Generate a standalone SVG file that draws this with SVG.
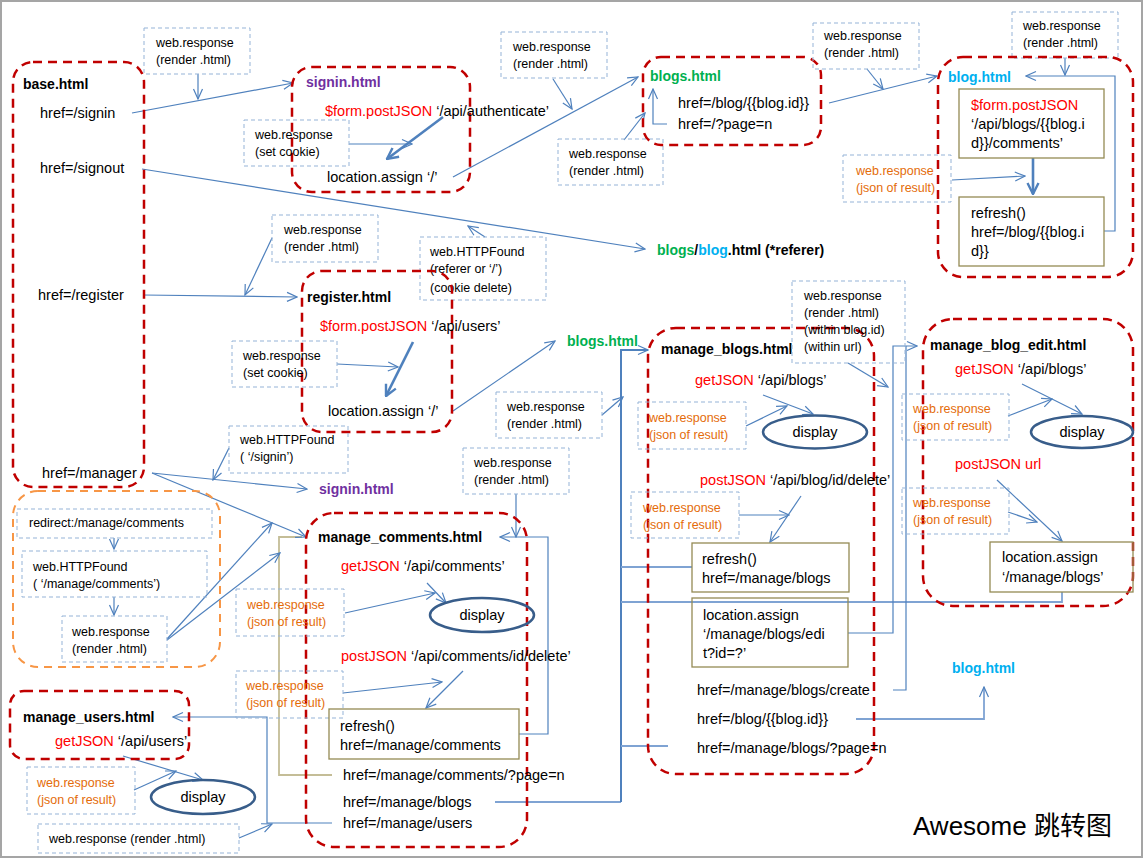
<svg xmlns="http://www.w3.org/2000/svg" width="1143" height="860" viewBox="0 0 1143 860">
<style>
text{font-family:"Liberation Sans",Arial,sans-serif;font-size:14.5px;fill:#000}
.s{font-size:12.5px}
.b{font-weight:bold;font-size:14px}
.r{fill:#ff0000}
.o{fill:#e46c0a}
.p{fill:#7030a0}
.g{fill:#00b050}
.c{fill:#00b0f0}
.k{fill:#000}
.pg{fill:none;stroke:#c00000;stroke-width:2.5;stroke-dasharray:9 6}
.og{fill:none;stroke:#f79646;stroke-width:2;stroke-dasharray:8 6}
.db{fill:none;stroke:#95b3d7;stroke-width:1;stroke-dasharray:4 3}
.ob{fill:none;stroke:#948a54;stroke-width:1.3}
.el{fill:none;stroke:#385d8a;stroke-width:2.5}
.ln{fill:none;stroke:#4f81bd;stroke-width:1.2}
.lt{fill:none;stroke:#7fa3d3;stroke-width:1.8}
.tk{fill:none;stroke:#4f81bd;stroke-width:2.6}
.tn{fill:none;stroke:#c4bd97;stroke-width:1.8}
.mid{text-anchor:middle}
</style>
<defs>
<marker id="a" viewBox="-1 -6 12 12" refX="10" refY="0" markerWidth="12" markerHeight="12" markerUnits="userSpaceOnUse" orient="auto"><path d="M0,-4.5 L10,0 L0,4.5" fill="none" stroke="#4f81bd" stroke-width="1.2"/></marker>
<marker id="h" viewBox="-1 -7 13 14" refX="11" refY="0" markerWidth="13" markerHeight="14" markerUnits="userSpaceOnUse" orient="auto"><path d="M0,-5.5 L11,0 L0,5.5" fill="none" stroke="#4f81bd" stroke-width="2.4"/></marker>
</defs>
<rect x="1" y="1" width="1141" height="856" fill="#ffffff" stroke="#a5a5a5" stroke-width="2"/>

<g id="connectors">
<path class="ln" d="M132,113 L293,83" marker-end="url(#a)"/>
<path class="ln" d="M198,74 L198,99" marker-end="url(#a)"/>
<path class="ln" d="M349,144 L412,144" marker-end="url(#a)"/>
<path class="tk" d="M443,117 L387,159" marker-end="url(#h)"/>
<path class="ln" d="M453,177 L638,77" marker-end="url(#a)"/>
<path class="ln" d="M553,79 L572,109" marker-end="url(#a)"/>
<path class="ln" d="M624,140 L645,113" marker-end="url(#a)"/>
<path class="ln" d="M667,124 L653,124 L653,89" marker-end="url(#a)"/>
<path class="ln" d="M829,103 L937,76" marker-end="url(#a)"/>
<path class="ln" d="M867,69 L883,89" marker-end="url(#a)"/>
<path class="ln" d="M1065,58 L1065,75" marker-end="url(#a)"/>
<path class="tk" d="M1033,158 L1033,194" marker-end="url(#h)"/>
<path class="ln" d="M1104,231 L1115,231 L1115,76 L1026,76" marker-end="url(#a)"/>
<path class="ln" d="M952,180 L1025,176" marker-end="url(#a)"/>
<path class="ln" d="M142,169 L645,249" marker-end="url(#a)"/>
<path class="ln" d="M485,237 L468,226" marker-end="url(#a)"/>
<path class="ln" d="M143,295 L297,297" marker-end="url(#a)"/>
<path class="ln" d="M272,238 L245,295" marker-end="url(#a)"/>
<path class="ln" d="M337,364 L398,367" marker-end="url(#a)"/>
<path class="tk" d="M413,342 L386,396" marker-end="url(#h)"/>
<path class="ln" d="M453,411 L555,341" marker-end="url(#a)"/>
<path class="ln" d="M229,448 L213,480" marker-end="url(#a)"/>
<path class="ln" d="M152,473 L307,489" marker-end="url(#a)"/>
<path class="tn" d="M332,775 L279,775 L279,537 L302,537"/>
<path class="ln" d="M152,473 L306,537" marker-end="url(#a)"/>
<path class="ln" d="M114,538 L114,549" marker-end="url(#a)"/>
<path class="ln" d="M114,597 L114,615" marker-end="url(#a)"/>
<path class="ln" d="M167,639 L272,523" marker-end="url(#a)"/>
<path class="ln" d="M167,640 L280,553" marker-end="url(#a)"/>
<path class="ln" d="M345,613 L435,593" marker-end="url(#a)"/>
<path class="ln" d="M427,583 L446,603" marker-end="url(#a)"/>
<path class="ln" d="M343,693 L442,682" marker-end="url(#a)"/>
<path class="ln" d="M463,671 L426,708" marker-end="url(#a)"/>
<path class="ln" d="M519,734 L548,734 L548,537 L500,537" marker-end="url(#a)"/>
<path class="ln" d="M516,494 L516,537" marker-end="url(#a)"/>
<path class="ln" d="M332,823 L267,823 L267,717 L173,717" marker-end="url(#a)"/>
<path class="ln" d="M239,838 L272,824" marker-end="url(#a)"/>
<path class="ln" d="M123,756 L203,780" marker-end="url(#a)"/>
<path class="ln" d="M134,790 L176,771" marker-end="url(#a)"/>
<path class="ln" d="M746,426 L787,406" marker-end="url(#a)"/>
<path class="ln" d="M763,395 L813,414" marker-end="url(#a)"/>
<path class="ln" d="M739,515 L789,515" marker-end="url(#a)"/>
<path class="ln" d="M801,496 L770,542" marker-end="url(#a)"/>
<path class="ln" d="M602,415 L623,397" marker-end="url(#a)"/>
<path class="lt" d="M495,802 L621,802"/>
<path class="ln" style="stroke-width:2" d="M621,802 L621,350 L648,350" marker-end="url(#a)"/>
<path class="lt" d="M692,567 L621,567"/>
<path class="lt" d="M621,602 L1062,602 L1062,592"/>
<path class="lt" d="M668,746 L621,746"/>
<path class="ln" d="M848,633 L893,633 L893,346 L917,346" marker-end="url(#a)"/>
<path class="ln" d="M893,690 L906,690 L906,346"/>
<path class="lt" d="M856,719 L984,719 L984,687" marker-end="url(#a)"/>
<path class="ln" d="M848,363 L888,387" marker-end="url(#a)"/>
<path class="ln" d="M1022,384 L1082,414" marker-end="url(#a)"/>
<path class="ln" d="M1008,416 L1052,399" marker-end="url(#a)"/>
<path class="ln" d="M1008,512 L1037,522" marker-end="url(#a)"/>
<path class="ln" d="M997,480 L1062,541" marker-end="url(#a)"/>
</g>

<g id="base">
<rect class="pg" x="13" y="62" width="131" height="425" rx="20"/>
<text class="b" x="23" y="89">base.html</text>
<text x="40" y="118">href=/signin</text>
<text x="40" y="173">href=/signout</text>
<text x="38" y="300">href=/register</text>
<text x="42" y="478">href=/manager</text>
</g>

<g id="resp-signin">
<rect class="db" x="144" y="28" width="106" height="46"/>
<text class="s" x="156" y="47">web.response</text>
<text class="s" x="156" y="64">(render .html)</text>
</g>

<g id="signin">
<rect class="pg" x="292" y="67" width="178" height="125" rx="20"/>
<text class="b p" x="306" y="87">signin.html</text>
<text x="325" y="116"><tspan class="r">$form.postJSON</tspan> ‘/api/authenticate’</text>
<text x="327" y="182">location.assign ‘/’</text>
<rect class="db" x="244" y="120" width="105" height="46"/>
<text class="s" x="255" y="139">web.response</text>
<text class="s" x="255" y="156">(set cookie)</text>
</g>

<g id="resp-blogs1">
<rect class="db" x="501" y="32" width="106" height="46"/>
<text class="s" x="513" y="51">web.response</text>
<text class="s" x="513" y="68">(render .html)</text>
<rect class="db" x="558" y="139" width="105" height="46"/>
<text class="s" x="569" y="158">web.response</text>
<text class="s" x="569" y="175">(render .html)</text>
</g>

<g id="blogs">
<rect class="pg" x="643" y="57" width="178" height="88" rx="18"/>
<text class="b g" x="650" y="81">blogs.html</text>
<text x="678" y="108">href=/blog/{{blog.id}}</text>
<text x="678" y="129">href=/?page=n</text>
</g>

<g id="resp-blog">
<rect class="db" x="813" y="23" width="106" height="46"/>
<text class="s" x="824" y="40">web.response</text>
<text class="s" x="824" y="57">(render .html)</text>
<rect class="db" x="1012" y="12" width="106" height="46"/>
<text class="s" x="1023" y="30">web.response</text>
<text class="s" x="1023" y="47">(render .html)</text>
<rect class="db" x="843" y="155" width="108" height="47"/>
<text class="s o" x="856" y="175">web.response</text>
<text class="s o" x="856" y="192">(json of result)</text>
</g>

<g id="blog">
<rect class="pg" x="938" y="57" width="195" height="220" rx="25"/>
<text class="b c" x="948" y="82">blog.html</text>
<rect class="ob" x="959" y="89" width="145" height="69"/>
<text x="971" y="110" class="r">$form.postJSON</text>
<text x="971" y="129">‘/api/blogs/{{blog.i</text>
<text x="971" y="148">d}}/comments’</text>
<rect class="ob" x="959" y="197" width="145" height="69"/>
<text x="971" y="218">refresh()</text>
<text x="971" y="237">href=/blog/{{blog.i</text>
<text x="971" y="256">d}}</text>
</g>

<g id="signout-target">
<text class="b" x="657" y="255"><tspan class="g">blogs</tspan>/<tspan class="c">blog</tspan>.html (*referer)</text>
<rect class="db" x="420" y="237" width="126" height="63"/>
<text class="s" x="430" y="256">web.HTTPFound</text>
<text class="s" x="430" y="273">(referer or ‘/’)</text>
<text class="s" x="430" y="292">(cookie delete)</text>
</g>

<g id="resp-register">
<rect class="db" x="272" y="215" width="106" height="47"/>
<text class="s" x="284" y="234">web.response</text>
<text class="s" x="284" y="251">(render .html)</text>
</g>

<g id="register">
<rect class="pg" x="302" y="271" width="150" height="161" rx="20"/>
<text class="b" x="307" y="302">register.html</text>
<text x="320" y="331"><tspan class="r">$form.postJSON</tspan> ‘/api/users’</text>
<rect class="db" x="232" y="341" width="105" height="46"/>
<text class="s" x="243" y="360">web.response</text>
<text class="s" x="243" y="377">(set cookie)</text>
<text x="328" y="416">location.assign ‘/’</text>
</g>

<g id="blogs2">
<text class="b g" x="567" y="346">blogs.html</text>
</g>

<g id="found-signin">
<rect class="db" x="229" y="426" width="119" height="47"/>
<text class="s" x="240" y="444">web.HTTPFound</text>
<text class="s" x="240" y="461">( ‘/signin’)</text>
<text class="b p" x="319" y="494">signin.html</text>
</g>

<g id="redirect">
<rect class="og" x="13" y="491" width="207" height="176" rx="25"/>
<rect class="db" x="17" y="509" width="195" height="29"/>
<text class="s" x="29" y="527">redirect:/manage/comments</text>
<rect class="db" x="22" y="551" width="185" height="46"/>
<text class="s" x="33" y="571">web.HTTPFound</text>
<text class="s" x="33" y="588">( ‘/manage/comments’)</text>
<rect class="db" x="62" y="616" width="105" height="46"/>
<text class="s" x="72" y="636">web.response</text>
<text class="s" x="72" y="653">(render .html)</text>
</g>

<g id="manage_comments">
<rect class="pg" x="306" y="513" width="221" height="334" rx="28"/>
<text class="b" x="318" y="542">manage_comments.html</text>
<text x="341" y="571"><tspan class="r">getJSON</tspan> ‘/api/comments’</text>
<ellipse class="el" cx="482" cy="615" rx="52" ry="17"/>
<text class="mid" x="482" y="620">display</text>
<rect class="db" x="236" y="589" width="108" height="47"/>
<text class="s o" x="247" y="609">web.response</text>
<text class="s o" x="247" y="626">(json of result)</text>
<text x="341" y="661"><tspan class="r">postJSON</tspan> ‘/api/comments/id/delete’</text>
<rect class="db" x="236" y="671" width="107" height="47"/>
<text class="s o" x="246" y="690">web.response</text>
<text class="s o" x="246" y="707">(json of result)</text>
<rect class="ob" x="329" y="709" width="190" height="50"/>
<text x="340" y="731">refresh()</text>
<text x="340" y="750">href=/manage/comments</text>
<text x="343" y="780">href=/manage/comments/?page=n</text>
<text x="343" y="807">href=/manage/blogs</text>
<text x="343" y="828">href=/manage/users</text>
<rect class="db" x="463" y="448" width="106" height="46"/>
<text class="s" x="474" y="467">web.response</text>
<text class="s" x="474" y="484">(render .html)</text>
</g>

<g id="manage_users">
<rect class="pg" x="10" y="691" width="179" height="68" rx="14"/>
<text class="b" x="23" y="722">manage_users.html</text>
<text x="55" y="746"><tspan class="r">getJSON</tspan> ‘/api/users’</text>
<rect class="db" x="27" y="767" width="108" height="47"/>
<text class="s o" x="37" y="787">web.response</text>
<text class="s o" x="37" y="804">(json of result)</text>
<ellipse class="el" cx="203" cy="797" rx="52" ry="17"/>
<text class="mid" x="203" y="802">display</text>
<rect class="db" x="38" y="824" width="201" height="29"/>
<text class="s" x="49" y="843">web.response (render .html)</text>
</g>

<g id="manage_blogs">
<rect class="pg" x="648" y="328" width="226" height="446" rx="28"/>
<text class="b" x="661" y="354">manage_blogs.html</text>
<text x="695" y="385"><tspan class="r">getJSON</tspan> ‘/api/blogs’</text>
<ellipse class="el" cx="815" cy="432" rx="52" ry="16.5"/>
<text class="mid" x="815" y="437">display</text>
<rect class="db" x="638" y="402" width="108" height="47"/>
<text class="s o" x="649" y="422">web.response</text>
<text class="s o" x="649" y="439">(json of result)</text>
<text x="700" y="485"><tspan class="r">postJSON</tspan> ‘/api/blog/id/delete’</text>
<rect class="db" x="631" y="492" width="108" height="46"/>
<text class="s o" x="643" y="512">web.response</text>
<text class="s o" x="643" y="529">(json of result)</text>
<rect class="ob" x="692" y="543" width="157" height="49"/>
<text x="702" y="564">refresh()</text>
<text x="702" y="583">href=/manage/blogs</text>
<rect class="ob" x="692" y="598" width="156" height="69"/>
<text x="703" y="620">location.assign</text>
<text x="703" y="639">‘/manage/blogs/edi</text>
<text x="703" y="658">t?id=?’</text>
<text x="697" y="695">href=/manage/blogs/create</text>
<text x="697" y="724">href=/blog/{{blog.id}}</text>
<text x="697" y="753">href=/manage/blogs/?page=n</text>
<rect class="db" x="496" y="392" width="106" height="46"/>
<text class="s" x="507" y="411">web.response</text>
<text class="s" x="507" y="428">(render .html)</text>
</g>

<g id="resp-edit">
<rect class="db" x="792" y="281" width="113" height="82"/>
<text class="s" x="804" y="300">web.response</text>
<text class="s" x="804" y="317">(render .html)</text>
<text class="s" x="804" y="334">(within blog.id)</text>
<text class="s" x="804" y="351">(within url)</text>
</g>

<g id="manage_blog_edit">
<rect class="pg" x="923" y="319" width="210" height="287" rx="30"/>
<text class="b" x="930" y="350">manage_blog_edit.html</text>
<text x="955" y="374"><tspan class="r">getJSON</tspan> ‘/api/blogs’</text>
<ellipse class="el" cx="1082" cy="432" rx="51" ry="16"/>
<text class="mid" x="1082" y="437">display</text>
<rect class="db" x="902" y="394" width="107" height="46"/>
<text class="s o" x="913" y="413">web.response</text>
<text class="s o" x="913" y="430">(json of result)</text>
<text class="r" x="955" y="469">postJSON url</text>
<rect class="db" x="902" y="488" width="107" height="46"/>
<text class="s o" x="913" y="507">web.response</text>
<text class="s o" x="913" y="524">(json of result)</text>
<rect class="ob" x="990" y="542" width="143" height="50"/>
<text x="1002" y="562">location.assign</text>
<text x="1002" y="582">‘/manage/blogs’</text>
</g>

<g id="blog2">
<text class="b c" x="952" y="673">blog.html</text>
</g>

<g id="title">
<text x="913" y="835" style="font-family:'Liberation Sans','Noto Sans CJK SC',sans-serif;font-size:26px">Awesome 跳转图</text>
</g>
</svg>
